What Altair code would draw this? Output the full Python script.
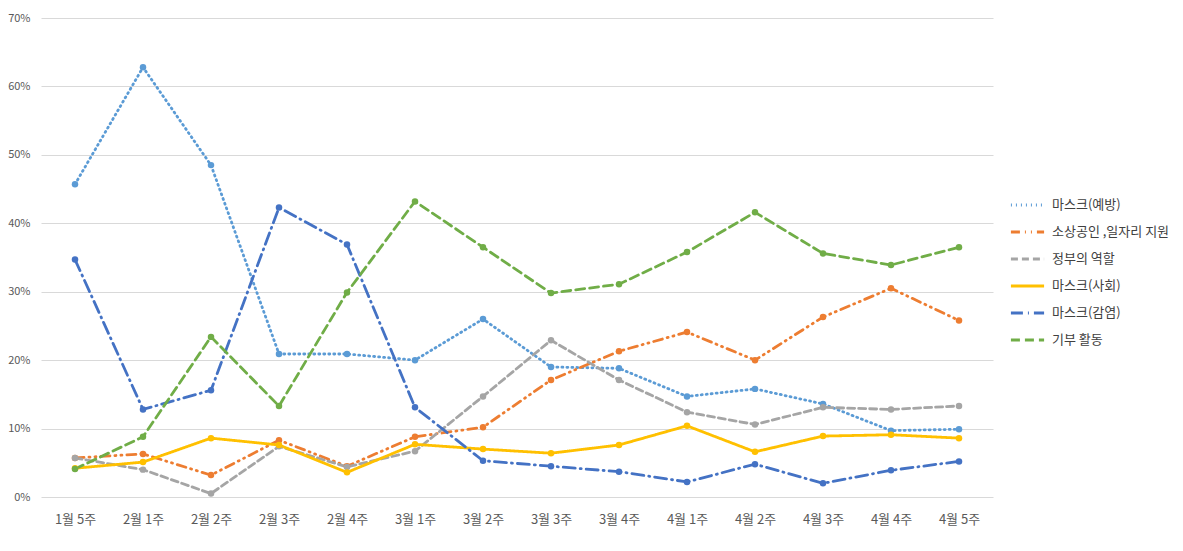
import altair as alt
import pandas as pd

weeks = ["1월 5주", "2월 1주", "2월 2주", "2월 3주", "2월 4주", "3월 1주", "3월 2주",
         "3월 3주", "3월 4주", "4월 1주", "4월 2주", "4월 3주", "4월 4주", "4월 5주"]

series_names = ["마스크(예방)", "소상공인 ,일자리 지원", "정부의 역할", "마스크(사회)", "마스크(감염)", "기부 활동"]

mask_prevent = [45.7, 62.8, 48.5, 20.9, 20.9, 20.0, 26.0, 19.0, 18.8, 14.7, 15.8, 13.6, 9.7, 9.9]
small_biz = [5.7, 6.3, 3.2, 8.3, 4.5, 8.8, 10.2, 17.1, 21.3, 24.1, 20.0, 26.3, 30.5, 25.8]
gov_role = [5.7, 4.0, 0.5, 7.4, 4.4, 6.7, 14.7, 22.9, 17.1, 12.4, 10.6, 13.1, 12.8, 13.3]
mask_social = [4.2, 5.1, 8.6, 7.6, 3.6, 7.7, 7.0, 6.4, 7.6, 10.4, 6.6, 8.9, 9.1, 8.6]
mask_infect = [34.7, 12.8, 15.6, 42.3, 36.9, 13.1, 5.3, 4.5, 3.7, 2.2, 4.8, 2.0, 3.9, 5.2]
donation = [4.1, 8.8, 23.4, 13.3, 29.9, 43.2, 36.5, 29.8, 31.1, 35.8, 41.6, 35.6, 33.9, 36.5]

colors = ["#5B9BD5", "#ED7D31", "#A5A5A5", "#FFC000", "#4472C4", "#70AD47"]
dashes = [[1, 4], [9, 5, 1, 5, 1, 5], [7, 4], [1, 0], [12, 5, 1, 5], [9, 5]]

all_values = [mask_prevent, small_biz, gov_role, mask_social, mask_infect, donation]
rows = []
for name, vals in zip(series_names, all_values):
    for w, v in zip(weeks, vals):
        rows.append({"주차": w, "항목": name, "값": v / 100.0})
df = pd.DataFrame(rows)

font = "Noto Sans CJK KR"

x = alt.X("주차:O", sort=weeks, title=None,
          scale=alt.Scale(type="point", padding=0.5),
          axis=alt.Axis(labelAngle=0, ticks=False, domain=False, labelPadding=16,
                        labelFontSize=13, labelColor="#595959", labelFont=font))
y = alt.Y("값:Q", title=None,
          scale=alt.Scale(domain=[0, 0.7]),
          axis=alt.Axis(format=".0%", values=[0, 0.1, 0.2, 0.3, 0.4, 0.5, 0.6, 0.7],
                        ticks=False, domain=False, labelPadding=11, labelFontSize=11,
                        labelColor="#595959", labelFont=font,
                        gridColor="#D9D9D9", gridWidth=1))

legend_kw = dict(title=None, orient="none", legendX=968, legendY=180,
                 symbolType="stroke", symbolSize=1100, symbolStrokeWidth=3,
                 labelFontSize=13, labelFont=font, labelColor="#404040",
                 clipHeight=14, rowPadding=13, labelOffset=6)

color = alt.Color("항목:N", sort=series_names,
                  scale=alt.Scale(domain=series_names, range=colors),
                  legend=alt.Legend(**legend_kw))
dash = alt.StrokeDash("항목:N", sort=series_names,
                      scale=alt.Scale(domain=series_names, range=dashes),
                      legend=alt.Legend(**legend_kw))

lines = alt.Chart(df).mark_line(strokeWidth=2.8, strokeCap="round").encode(
    x=x, y=y, color=color, strokeDash=dash, order=alt.Order("항목:N")
)
points = alt.Chart(df).mark_circle(size=42, opacity=1).encode(
    x=x, y=y,
    color=alt.Color("항목:N", sort=series_names,
                    scale=alt.Scale(domain=series_names, range=colors), legend=None)
)

chart = alt.layer(lines, points).properties(
    width=952, height=479,
    autosize=alt.AutoSizeParams(type="none"),
    padding={"left": 33, "top": 10, "right": 180, "bottom": 45},
).configure(background="white").configure_view(stroke=None, strokeWidth=0)

chart.save("out.html", embed_options={"renderer": "svg", "actions": False})
